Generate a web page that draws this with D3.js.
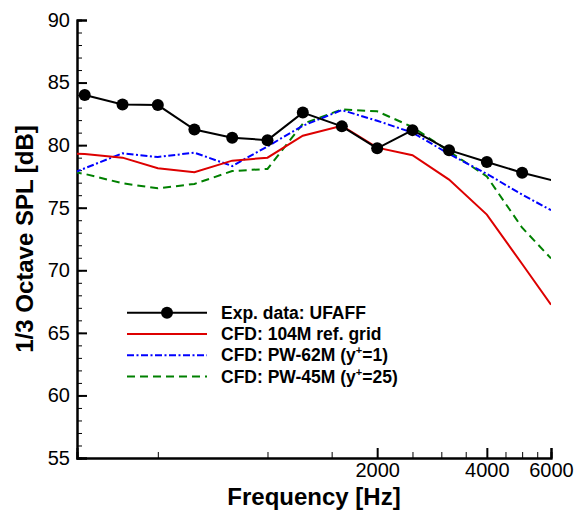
<!DOCTYPE html>
<html>
<head>
<meta charset="utf-8">
<script src="https://cdn.jsdelivr.net/npm/d3@7"></script>
<style>
  body { margin: 0; background: #fff; }
  text { font-family: "Liberation Sans", Arial, Helvetica, sans-serif; }
</style>
</head>
<body>
<div id="chart"></div>
<script>
// 1/3 octave band centre frequencies [Hz]
var expFreq = [315, 400, 500, 630, 800, 1000, 1250, 1600, 2000, 2500, 3150, 4000, 5000, 6300];
var expSpl  = [84.0, 83.25, 83.2, 81.25, 80.6, 80.4, 82.6, 81.5, 79.75, 81.2, 79.6, 78.65, 77.8, 77.05];

var cfdFreq = [250, 315, 400, 500, 630, 800, 1000, 1250, 1600, 2000, 2500, 3150, 4000, 5000, 6000];
var ref104  = [79.35, 79.3, 79.0, 78.15, 77.83, 78.76, 79.0, 80.75, 81.55, 79.8, 79.2, 77.25, 74.45, 70.5, 67.25];
var pw62    = [77.0, 78.15, 79.35, 79.05, 79.4, 78.33, 79.9, 81.55, 82.8, 81.95, 81.0, 79.3, 77.7, 76.05, 74.8];
var pw45    = [78.2, 77.7, 76.95, 76.55, 76.9, 77.93, 78.1, 81.7, 82.85, 82.7, 81.45, 79.5, 77.5, 73.4, 70.95];

var yMajor = [55, 60, 65, 70, 75, 80, 85, 90];
var xMajor = [2000, 4000, 6000];
var xMinor = [500, 1000, 1500, 2500, 3000, 3500, 4500, 5000, 5500];

var legendLabels = ["Exp. data: UFAFF", "CFD: 104M ref. grid", "CFD: PW-62M (y", "CFD: PW-45M (y"];
var legendTails  = ["", "", "=1)", "=25)"];

var width = 575, height = 514;
var svg = d3.select("#chart").append("svg").attr("width", width).attr("height", height);

var x = d3.scaleLog().domain([300, 6000]).range([77, 551]);
var y = d3.scaleLinear().domain([55, 90]).range([458, 20]);

svg.append("clipPath").attr("id", "plotclip")
  .append("rect").attr("x", 77).attr("y", 10).attr("width", 551 - 77).attr("height", 458 - 10);

// axes (ticks point inward)
var yMinorAxis = d3.axisLeft(y).tickValues(d3.range(55, 91, 1)).tickSize(-5).tickFormat("");
svg.append("g").attr("class", "minor").attr("transform", "translate(77,0)").call(yMinorAxis);
var yAxis = d3.axisLeft(y).tickValues(yMajor).tickSize(-10).tickPadding(7).tickFormat(d3.format("d"));
svg.append("g").attr("class", "major").attr("transform", "translate(77,0)").call(yAxis);

var xMinorAxis = d3.axisBottom(x).tickValues(xMinor).tickSize(-6).tickFormat("");
svg.append("g").attr("class", "minor").attr("transform", "translate(0,458)").call(xMinorAxis);
var xAxis = d3.axisBottom(x).tickValues(xMajor).tickSize(-10).tickPadding(5).tickFormat(d3.format("d"));
svg.append("g").attr("class", "major").attr("transform", "translate(0,458)").call(xAxis);

svg.selectAll(".domain").attr("stroke", "#000").attr("stroke-width", 2);
svg.selectAll(".minor .tick line").attr("stroke", "#000").attr("stroke-width", 1);
svg.selectAll(".major .tick line").attr("stroke", "#000").attr("stroke-width", 2);
svg.selectAll(".tick text").attr("font-size", "20px").attr("fill", "#000")
  .attr("font-family", "'Liberation Sans', Arial, sans-serif");

// titles
svg.append("text").attr("x", 314).attr("y", 505).attr("text-anchor", "middle")
  .attr("font-size", "24px").attr("font-weight", "bold").text("Frequency [Hz]");
svg.append("text").attr("transform", "translate(33,239) rotate(-90)").attr("text-anchor", "middle")
  .attr("font-size", "24px").attr("font-weight", "bold").text("1/3 Octave SPL [dB]");

// series
var line = d3.line().x(function(d) { return x(d[0]); }).y(function(d) { return y(d[1]); });
var plot = svg.append("g").attr("clip-path", "url(#plotclip)");

var series = [
  { f: cfdFreq, v: pw45,   color: "#008000", dash: "8,5" },
  { f: cfdFreq, v: pw62,   color: "#0000ff", dash: "7,2.5,2,2.5" },
  { f: cfdFreq, v: ref104, color: "#dd0000", dash: null },
  { f: expFreq, v: expSpl, color: "#000000", dash: null }
];
series.forEach(function(s) {
  plot.append("path")
    .attr("d", line(d3.zip(s.f, s.v)))
    .attr("fill", "none")
    .attr("stroke", s.color)
    .attr("stroke-width", 2)
    .attr("stroke-dasharray", s.dash);
});

plot.selectAll(".dot")
  .data(d3.zip(expFreq, expSpl))
  .enter()
  .append("circle")
  .attr("cx", function(d) { return x(d[0]); })
  .attr("cy", function(d) { return y(d[1]); })
  .attr("r", 6)
  .attr("fill", "#000");

// legend
var legend = svg.append("g");
legendLabels.forEach(function(lab, i) {
  var s = series[3 - i];
  var ly = 312.7 + i * 21.3;
  legend.append("line")
    .attr("x1", 127).attr("x2", 207).attr("y1", ly).attr("y2", ly)
    .attr("stroke", s.color).attr("stroke-width", 2)
    .attr("stroke-dasharray", s.dash);
  if (i === 0) {
    legend.append("circle").attr("cx", 167).attr("cy", ly).attr("r", 6).attr("fill", "#000");
  }
  var t = legend.append("text").attr("x", 221).attr("y", ly + 6)
    .attr("font-size", "17.5px").attr("font-weight", "bold");
  t.append("tspan").text(lab);
  if (legendTails[i]) {
    t.append("tspan").attr("dy", -7).attr("font-size", "11px").text("+");
    t.append("tspan").attr("dy", 7).text(legendTails[i]);
  }
});
</script>
</body>
</html>
